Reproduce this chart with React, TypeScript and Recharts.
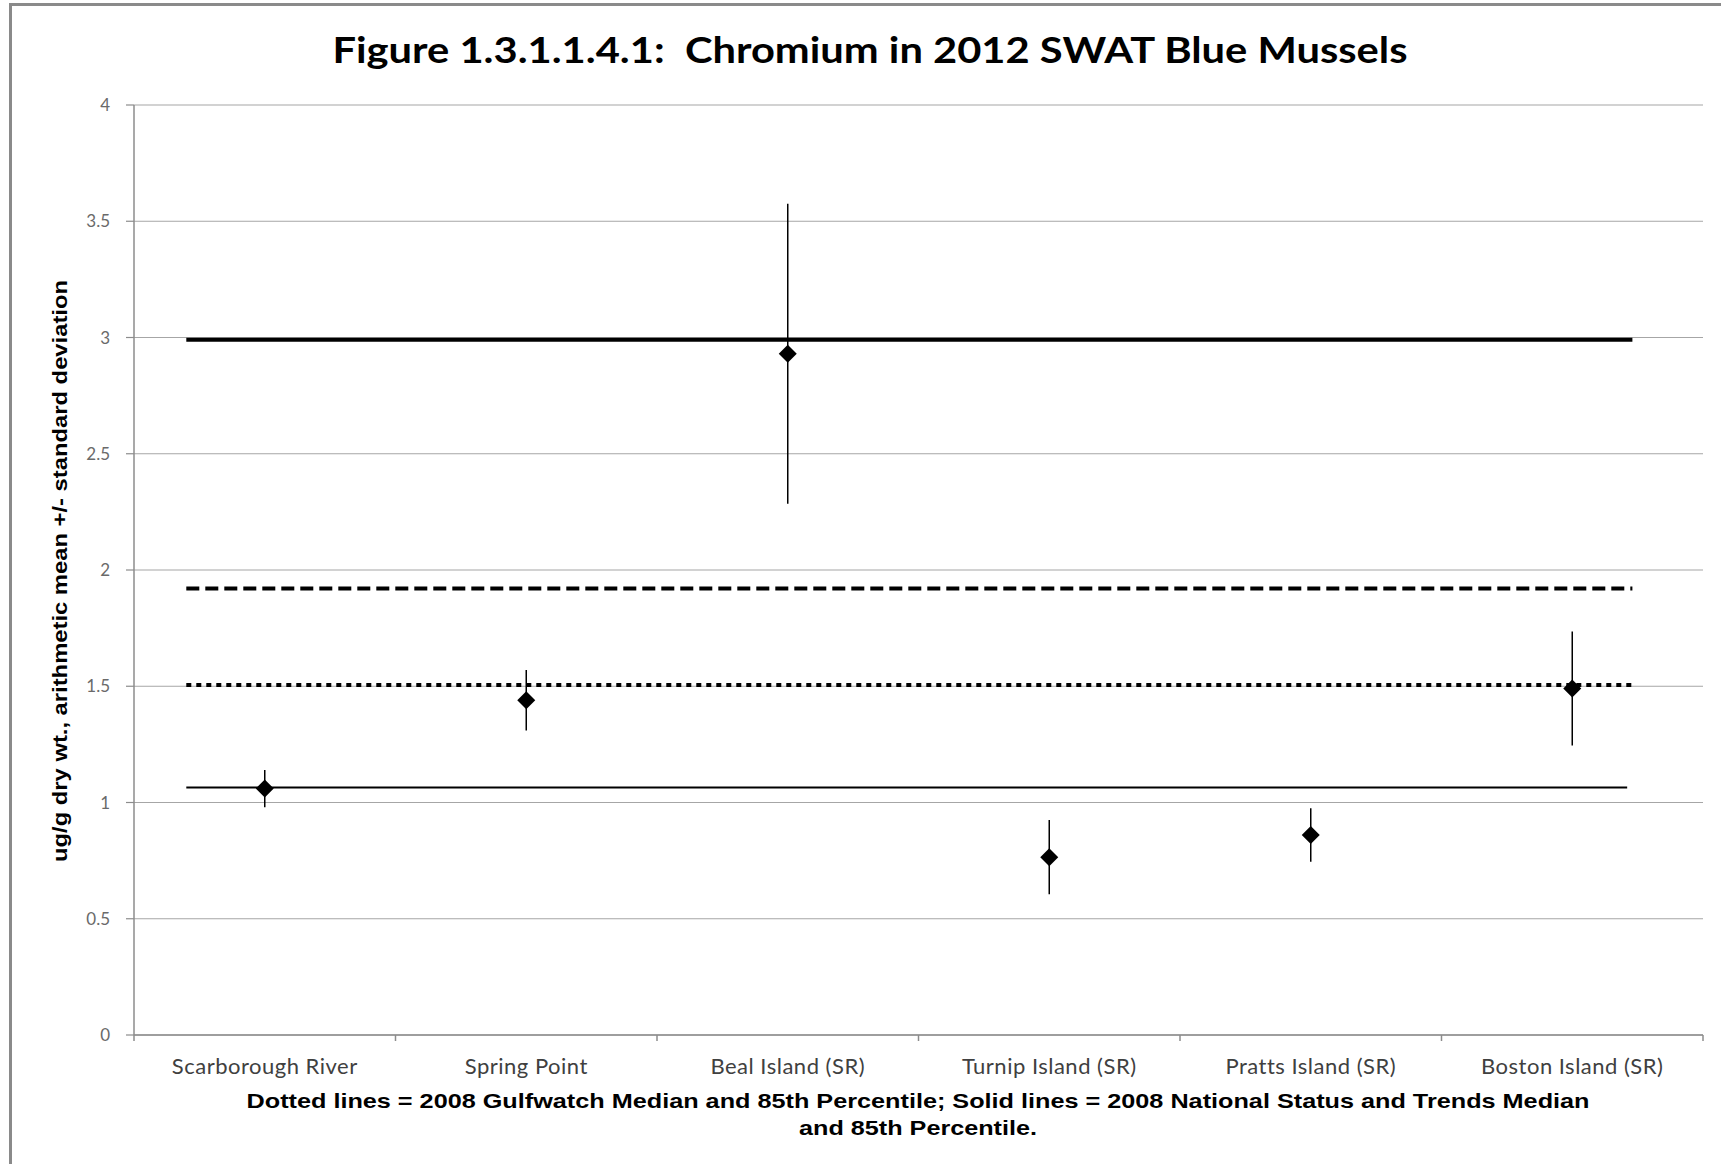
import React from "react";
import {
  ScatterChart,
  Scatter,
  XAxis,
  YAxis,
  CartesianGrid,
  ErrorBar,
  ReferenceLine,
} from "recharts";

// Sites along the x axis
const sites = [
  "Scarborough River",
  "Spring Point",
  "Beal Island (SR)",
  "Turnip Island (SR)",
  "Pratts Island (SR)",
  "Boston Island (SR)",
];

// arithmetic mean, ug/g dry wt.
const means = [1.06, 1.44, 2.93, 0.765, 0.86, 1.49];
// standard deviation
const sds = [0.08, 0.13, 0.645, 0.16, 0.115, 0.245];

const yTicks = [0, 0.5, 1, 1.5, 2, 2.5, 3, 3.5, 4];

// benchmark lines: value, start/end in category units, style
const benchmarks = [
  { name: "NS&T 85th", value: 2.99, from: 0.2, to: 5.73, width: 4, dash: undefined },
  { name: "Gulfwatch 85th", value: 1.92, from: 0.2, to: 5.73, width: 4, dash: "13 6" },
  { name: "Gulfwatch median", value: 1.505, from: 0.2, to: 5.73, width: 4, dash: "5 5" },
  { name: "NS&T median", value: 1.065, from: 0.2, to: 5.71, width: 2, dash: undefined },
];

const TITLE = "Figure 1.3.1.1.4.1:  Chromium in 2012 SWAT Blue Mussels";
const Y_LABEL = "ug/g dry wt., arithmetic mean +/- standard deviation";
const NOTE_1 =
  "Dotted lines = 2008 Gulfwatch Median and 85th Percentile; Solid lines = 2008 National Status and Trends Median";
const NOTE_2 = "and 85th Percentile.";

const W = 1721;
const H = 1164;

const data = sites.map((site, i) => ({
  x: i + 0.5,
  site,
  mean: means[i],
  sd: sds[i],
}));

// boundaries + centers so one tick renderer can draw marks and labels
const xTicks: number[] = [];
for (let i = 0; i <= sites.length * 2; i++) xTicks.push(i / 2);

function XTick(props: any) {
  const { x, y, payload } = props;
  const v = Number(payload.value);
  if (Number.isInteger(v)) {
    return <line x1={x} y1={y} x2={x} y2={y + 6} stroke="#8c8c8c" strokeWidth={1.5} />;
  }
  const label = sites[Math.floor(v)];
  return (
    <text
      x={x}
      y={y + 39}
      textAnchor="middle"
      fontFamily="Lato, 'Open Sans', sans-serif"
      fontSize={22}
      letterSpacing={0.5}
      fill="#404040"
    >
      {label}
    </text>
  );
}

function Diamond(props: any) {
  const { cx, cy } = props;
  const r = 9;
  return (
    <polygon
      points={`${cx},${cy - r} ${cx + r},${cy} ${cx},${cy + r} ${cx - r},${cy}`}
      fill="#000"
    />
  );
}

export default function App() {
  return (
    <div
      style={{
        position: "absolute",
        left: 0,
        top: 0,
        width: W,
        height: H,
        background: "#fff",
        overflow: "hidden",
      }}
    >
      {/* frame */}
      <div
        style={{
          position: "absolute",
          left: 9,
          top: 3,
          width: W,
          height: H,
          borderLeft: "3px solid #8a8a8a",
          borderTop: "3px solid #8a8a8a",
        }}
      />
      <div style={{ position: "absolute", left: 0, top: 0 }}>
        <ScatterChart
          width={W}
          height={H}
          margin={{ top: 105, right: 18, bottom: 89, left: 74 }}
        >
          <CartesianGrid vertical={false} stroke="#a6a6a6" strokeWidth={1.2} />
          <XAxis
            type="number"
            dataKey="x"
            domain={[0, sites.length]}
            ticks={xTicks}
            interval={0}
            height={40}
            tick={<XTick />}
            tickLine={false}
            tickSize={0}
            tickMargin={0}
            axisLine={{ stroke: "#8c8c8c", strokeWidth: 1.5 }}
            allowDataOverflow
          />
          <YAxis
            type="number"
            dataKey="mean"
            domain={[0, 4]}
            ticks={yTicks}
            interval={0}
            width={60}
            tickSize={8}
            tickMargin={16}
            tickLine={{ stroke: "#8c8c8c", strokeWidth: 1.2 }}
            axisLine={{ stroke: "#8c8c8c", strokeWidth: 1.5 }}
            tick={{
              fill: "#6a6a6a",
              fontSize: 17,
              fontFamily: "Lato, sans-serif",
            }}
          />
          {benchmarks.map((b) => (
            <ReferenceLine
              key={b.name}
              segment={[
                { x: b.from, y: b.value },
                { x: b.to, y: b.value },
              ]}
              stroke="#000"
              strokeWidth={b.width}
              strokeDasharray={b.dash}
            />
          ))}
          <Scatter data={data} isAnimationActive={false} shape={<Diamond />}>
            <ErrorBar
              dataKey="sd"
              direction="y"
              width={0}
              stroke="#000"
              strokeWidth={1.5}
              isAnimationActive={false}
            />
          </Scatter>
        </ScatterChart>
      </div>
      <svg
        width={W}
        height={H}
        style={{ position: "absolute", left: 0, top: 0, pointerEvents: "none" }}
      >
        <text
          x={870}
          y={63}
          textAnchor="middle"
          fontFamily="Lato, 'Open Sans', sans-serif"
          fontWeight={700}
          fontSize={36}
          textLength={1075}
          lengthAdjust="spacingAndGlyphs"
          fill="#000"
          style={{ whiteSpace: "pre" }}
        >
          {TITLE}
        </text>
        <text
          transform="translate(67 571) rotate(-90)"
          textAnchor="middle"
          fontFamily="'Liberation Sans Narrow', 'Liberation Sans', Arial, sans-serif"
          fontWeight={700}
          fontSize={20}
          textLength={582}
          lengthAdjust="spacingAndGlyphs"
          fill="#000"
        >
          {Y_LABEL}
        </text>
        <text
          x={918}
          y={1108}
          textAnchor="middle"
          fontFamily="'Liberation Sans Narrow', 'Liberation Sans', Arial, sans-serif"
          fontWeight={700}
          fontSize={21}
          textLength={1343}
          lengthAdjust="spacingAndGlyphs"
          fill="#000"
        >
          {NOTE_1}
        </text>
        <text
          x={918}
          y={1135}
          textAnchor="middle"
          fontFamily="'Liberation Sans Narrow', 'Liberation Sans', Arial, sans-serif"
          fontWeight={700}
          fontSize={21}
          textLength={238}
          lengthAdjust="spacingAndGlyphs"
          fill="#000"
        >
          {NOTE_2}
        </text>
      </svg>
    </div>
  );
}
